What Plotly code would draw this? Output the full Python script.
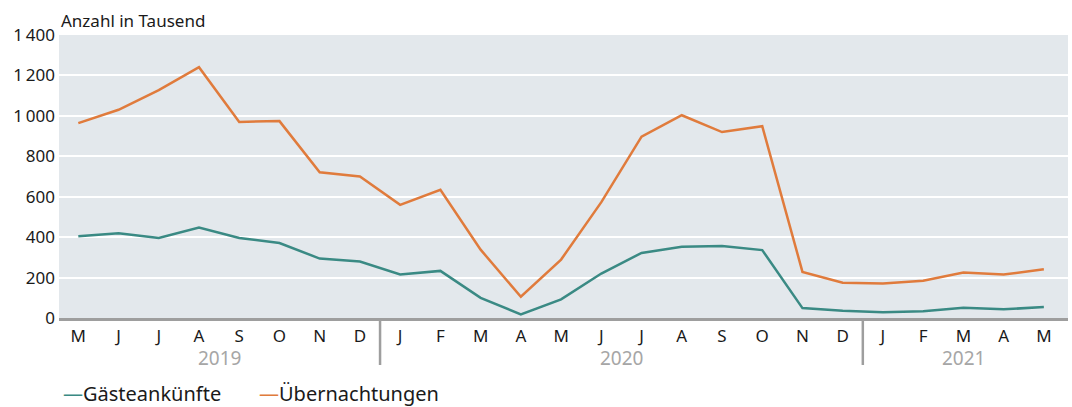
import plotly.graph_objects as go

months = ["2019-05", "2019-06", "2019-07", "2019-08", "2019-09", "2019-10", "2019-11", "2019-12",
          "2020-01", "2020-02", "2020-03", "2020-04", "2020-05", "2020-06", "2020-07", "2020-08",
          "2020-09", "2020-10", "2020-11", "2020-12", "2021-01", "2021-02", "2021-03", "2021-04", "2021-05"]
month_labels = ["M", "J", "J", "A", "S", "O", "N", "D",
                "J", "F", "M", "A", "M", "J", "J", "A", "S", "O", "N", "D",
                "J", "F", "M", "A", "M"]
gaeste = [405, 419, 396, 447, 396, 371, 294, 279,
          215, 233, 100, 18, 92, 220, 322, 353, 356, 336, 49, 36,
          28, 33, 51, 43, 54]
uebern = [964, 1030, 1127, 1241, 970, 974, 721, 700,
          560, 634, 338, 105, 289, 573, 897, 1003, 920, 949, 228, 174,
          171, 184, 225, 215, 241]
years = ["2019", "2020", "2021"]
year_centers = [3.5, 13.5, 22]
year_breaks = [7.5, 19.5]
y_ticks = [0, 200, 400, 600, 800, 1000, 1200, 1400]
y_ticktext = ["0", "200", "400", "600", "800", "1\u2009000", "1\u2009200", "1\u2009400"]

TEAL = "#3a8a84"
ORANGE = "#e07b3c"
FONT = "Noto Sans"

fig = go.Figure()
fig.add_trace(go.Scatter(x=months, y=gaeste, mode="lines", name="Gästeankünfte",
                         line=dict(color=TEAL, width=2.5)))
fig.add_trace(go.Scatter(x=months, y=uebern, mode="lines", name="Übernachtungen",
                         line=dict(color=ORANGE, width=2.5)))

fig.update_layout(
    width=1072, height=407,
    margin=dict(l=59, r=4, t=35, b=89, autoexpand=False),
    paper_bgcolor="white",
    plot_bgcolor="#e3e8ec",
    showlegend=False,
    font=dict(family=FONT, size=17, color="#1a1a1a"),
)
fig.update_xaxes(type="category", tickvals=months, ticktext=month_labels,
                 range=[-0.48, 24.6], showgrid=False, showline=True,
                 linecolor="#9e9e9e", linewidth=2.5, ticks="", ticklabelstandoff=1,
                 tickfont=dict(size=17, color="#1a1a1a"))
fig.update_yaxes(range=[0, 1400], tickvals=y_ticks, ticktext=y_ticktext,
                 gridcolor="white", gridwidth=2, zeroline=False, showline=False,
                 ticks="", ticklabelstandoff=3, tickfont=dict(size=17, color="#1a1a1a"))

for xb in year_breaks:
    fig.add_shape(type="line", xref="x", yref="paper", x0=xb, x1=xb, y0=0, y1=-0.166,
                  line=dict(color="#9e9e9e", width=2.5))
for yr, xc in zip(years, year_centers):
    fig.add_annotation(x=xc, xref="x", y=0, yref="paper", yshift=-40, yanchor="middle",
                       text=yr, showarrow=False, font=dict(size=19, color="#a6a6a6"))

fig.add_annotation(x=0, xref="paper", xanchor="left", xshift=0, y=1, yref="paper",
                   yanchor="bottom", yshift=1, text="Anzahl in Tausend", showarrow=False,
                   font=dict(size=17, color="#1a1a1a"))

fig.add_annotation(x=0, xref="paper", xanchor="left", xshift=2, y=0, yref="paper",
                   yanchor="middle", yshift=-75,
                   text=f"<span style='color:{TEAL}'>—</span>Gästeankünfte",
                   showarrow=False, font=dict(size=20, color="#1a1a1a"))
fig.add_annotation(x=0, xref="paper", xanchor="left", xshift=198, y=0, yref="paper",
                   yanchor="middle", yshift=-75,
                   text=f"<span style='color:{ORANGE}'>—</span>Übernachtungen",
                   showarrow=False, font=dict(size=20, color="#1a1a1a"))

fig.write_html("out.html", config={"displayModeBar": False},
               post_script="document.body.style.margin='0';")
